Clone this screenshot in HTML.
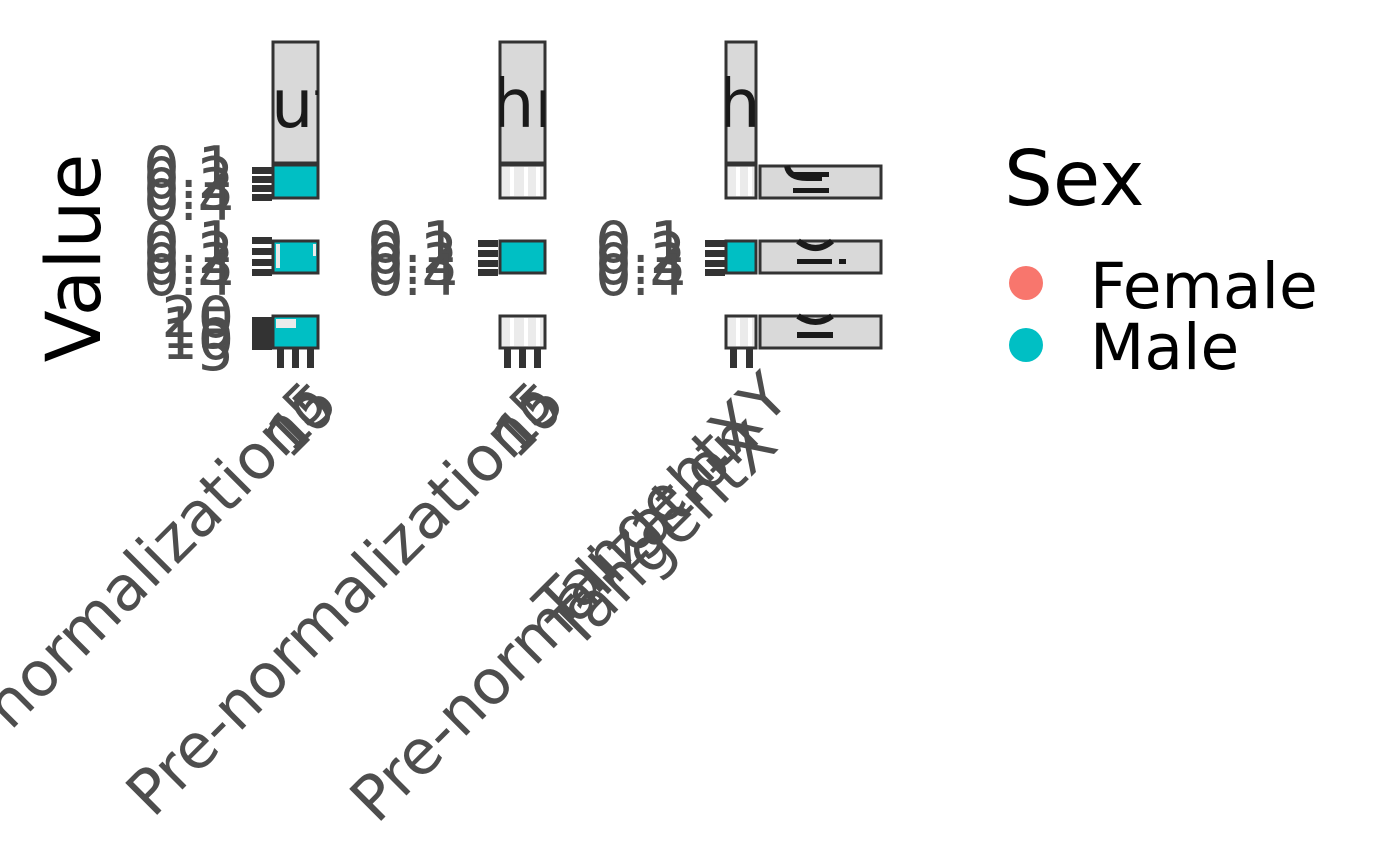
<!DOCTYPE html>
<html><head><meta charset="utf-8"><style>
html,body{margin:0;padding:0;background:#fff;}
svg{display:block;font-family:"DejaVu Sans","Liberation Sans",sans-serif;}
</style></head><body>
<svg width="1400" height="866" viewBox="0 0 1400 866" xmlns="http://www.w3.org/2000/svg">
<defs>
<clipPath id="s1"><rect x="273" y="42" width="45" height="121"/></clipPath>
<clipPath id="s2"><rect x="500" y="42" width="45" height="121"/></clipPath>
<clipPath id="s3"><rect x="726" y="42" width="30" height="121"/></clipPath>
</defs>

<rect x="273" y="42" width="45" height="121" fill="#d9d9d9" stroke="#333" stroke-width="3"/>
<rect x="500" y="42" width="45" height="121" fill="#d9d9d9" stroke="#333" stroke-width="3"/>
<rect x="726" y="42" width="30" height="121" fill="#d9d9d9" stroke="#333" stroke-width="3"/>
<g font-size="67" fill="#1a1a1a">
<text x="271" y="127" clip-path="url(#s1)">ut</text>
<text x="492" y="127" clip-path="url(#s2)">hr</text>
<text x="718" y="127" clip-path="url(#s3)">hi</text>
</g>

<rect x="760" y="166" width="121" height="32" fill="#d9d9d9" stroke="#333" stroke-width="3"/>
<rect x="760" y="241" width="121" height="32" fill="#d9d9d9" stroke="#333" stroke-width="3"/>
<rect x="760" y="316" width="121" height="32" fill="#d9d9d9" stroke="#333" stroke-width="3"/>
<g fill="#1a1a1a" stroke="#1a1a1a">
<path d="M787 166 q2 12 20 12 l15 0" stroke-width="6" fill="none"/>
<rect x="793" y="172" width="36" height="5" stroke="none"/>
<rect x="793" y="188" width="36" height="5" stroke="none"/>
<path d="M798 241 q18 14 34 0" stroke-width="6" fill="none"/>
<rect x="797" y="259" width="35" height="5" stroke="none"/><rect x="839" y="259" width="7" height="5" stroke="none"/>
<path d="M798 316 q18 12 34 0" stroke-width="6" fill="none"/>
<rect x="797" y="332" width="36" height="6" stroke="none"/>
</g>

<g stroke="#333" stroke-width="3">
<rect x="273" y="165" width="45" height="33" fill="#00bfc4"/>
<rect x="273" y="241" width="45" height="32" fill="#00bfc4"/>
<rect x="273" y="316" width="45" height="32" fill="#00bfc4"/>
<rect x="500" y="165" width="45" height="33" fill="#ebebeb"/>
<rect x="500" y="241" width="45" height="32" fill="#00bfc4"/>
<rect x="500" y="316" width="45" height="32" fill="#ebebeb"/>
<rect x="726" y="165" width="30" height="33" fill="#ebebeb"/>
<rect x="726" y="241" width="30" height="32" fill="#00bfc4"/>
<rect x="726" y="316" width="30" height="32" fill="#ebebeb"/>
</g>
<g fill="#ebebeb">
<rect x="276" y="319" width="20" height="9"/>
<rect x="276" y="244" width="4" height="24"/>
<rect x="313" y="244" width="3" height="12"/>
</g>
<g fill="#fff">
<rect x="510" y="167" width="4" height="29"/><rect x="524" y="167" width="4" height="29"/><rect x="536" y="167" width="4" height="29"/>
<rect x="510" y="318" width="4" height="28"/><rect x="524" y="318" width="4" height="28"/><rect x="536" y="318" width="4" height="28"/>
<rect x="736" y="167" width="4" height="29"/><rect x="748" y="167" width="4" height="29"/>
<rect x="736" y="318" width="4" height="28"/><rect x="748" y="318" width="4" height="28"/>
</g>

<g fill="#333">
<rect x="252" y="167" width="20" height="7"/><rect x="252" y="176" width="20" height="7"/><rect x="252" y="185" width="20" height="7"/><rect x="252" y="194" width="20" height="7"/>
<rect x="252" y="237" width="20" height="7"/><rect x="252" y="248" width="20" height="7"/><rect x="252" y="259" width="20" height="7"/><rect x="252" y="269" width="20" height="7"/>
<rect x="252" y="317" width="20" height="33"/>
<rect x="478" y="240" width="20" height="7"/><rect x="478" y="250" width="20" height="7"/><rect x="478" y="260" width="20" height="7"/><rect x="478" y="269" width="20" height="7"/>
<rect x="705" y="240" width="20" height="7"/><rect x="705" y="250" width="20" height="7"/><rect x="705" y="260" width="20" height="7"/><rect x="705" y="269" width="20" height="7"/>
<rect x="277" y="349" width="7" height="19"/><rect x="292" y="349" width="7" height="19"/><rect x="307" y="349" width="7" height="19"/>
<rect x="504" y="349" width="7" height="19"/><rect x="519" y="349" width="7" height="19"/><rect x="534" y="349" width="7" height="19"/>
<rect x="730" y="349" width="7" height="19"/><rect x="746" y="349" width="7" height="19"/>
</g>

<g font-size="57" fill="#4d4d4d" text-anchor="end">
<text x="234" y="187">0.1</text><text x="234" y="198">0.2</text><text x="234" y="209">0.3</text><text x="234" y="220">0.4</text>
<text x="234" y="262">0.1</text><text x="234" y="273">0.2</text><text x="234" y="284">0.3</text><text x="234" y="295">0.4</text>
<text x="234" y="337">20</text><text x="234" y="348">15</text><text x="234" y="359">10</text><text x="234" y="370">5</text>
<text x="458" y="262">0.1</text><text x="458" y="273">0.2</text><text x="458" y="284">0.3</text><text x="458" y="295">0.4</text>
<text x="686" y="262">0.1</text><text x="686" y="273">0.2</text><text x="686" y="284">0.3</text><text x="686" y="295">0.4</text>
</g>

<g font-size="62" fill="#4d4d4d" text-anchor="end">
<text transform="translate(310,432) rotate(-45)">Pre-normalization</text>
<text transform="translate(538,434) rotate(-45)">Pre-normalization</text>
<text transform="translate(762,440) rotate(-45)">Pre-normalization</text>
<text transform="translate(780,448) rotate(-45)">TangentX</text>
<text transform="translate(792,400) rotate(-45)">TangentXY</text>
</g>
<g font-size="54" fill="#4d4d4d" text-anchor="end">
<text transform="translate(330,405) rotate(-45)">5</text>
<text transform="translate(338,412) rotate(-45)">10</text>
<text transform="translate(340,406) rotate(-45)">15</text>
<text transform="translate(557,405) rotate(-45)">5</text>
<text transform="translate(565,412) rotate(-45)">10</text>
<text transform="translate(567,406) rotate(-45)">15</text>
</g>

<text transform="translate(100,258) rotate(-90)" font-size="76" text-anchor="middle" fill="#000">Value</text>

<text x="1004" y="205" font-size="77" fill="#000">Sex</text>
<circle cx="1026" cy="283" r="17" fill="#f8766d"/>
<circle cx="1026" cy="345" r="17" fill="#00bfc4"/>
<text x="1090" y="308" font-size="63" fill="#000">Female</text>
<text x="1090" y="369" font-size="63" fill="#000">Male</text>
</svg>
</body></html>
